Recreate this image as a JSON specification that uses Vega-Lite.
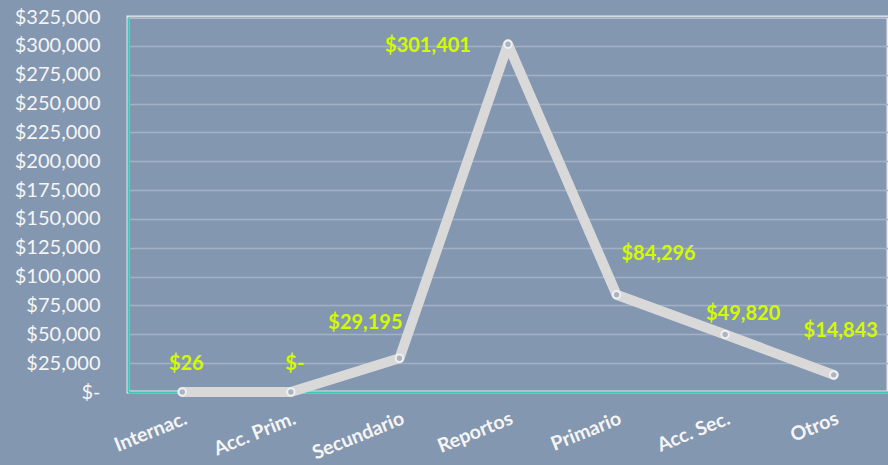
{
  "$schema": "https://vega.github.io/schema/vega-lite/v6.json",
  "autosize": {"type": "none"},
  "width": 760,
  "height": 375,
  "padding": {"left": 128, "top": 17, "right": 0, "bottom": 73},
  "background": "#8497B0",
  "config": {
    "view": {"stroke": "#E6E9EE", "strokeWidth": 3, "fill": "#8497B0"},
    "font": "Lato"
  },
  "data": {
    "values": [
      {"cat": "Internac.", "value": 26},
      {"cat": "Acc. Prim.", "value": 0},
      {"cat": "Secundario", "value": 29195},
      {"cat": "Reportos", "value": 301401},
      {"cat": "Primario", "value": 84296},
      {"cat": "Acc. Sec.", "value": 49820},
      {"cat": "Otros", "value": 14843}
    ]
  },
  "transform": [
    {"calculate": "datum.value == 0 ? '$-' : '$' + format(datum.value, ',')", "as": "label"}
  ],
  "encoding": {
    "x": {
      "field": "cat", "type": "nominal", "sort": null,
      "scale": {"type": "point", "padding": 0.5},
      "axis": {
        "title": null, "labelAngle": -22, "labelColor": "#F5F5F5",
        "labelFontSize": 19.5, "labelFontWeight": "bold", "labelPadding": 17,
        "ticks": false, "domain": true, "domainColor": "#3CC8B4", "domainWidth": 2, "grid": false
      }
    },
    "y": {
      "field": "value", "type": "quantitative",
      "scale": {"domain": [0, 325000], "nice": false},
      "axis": {
        "title": null,
        "values": [0, 25000, 50000, 75000, 100000, 125000, 150000, 175000, 200000, 225000, 250000, 275000, 300000, 325000],
        "labelExpr": "datum.value == 0 ? '$-' : '$' + format(datum.value, ',')",
        "labelColor": "#F5F5F5", "labelFontSize": 20, "labelPadding": 28,
        "ticks": false, "domain": true, "domainColor": "#3CC8B4", "domainWidth": 2,
        "grid": true, "gridColor": "#A3B1C6", "gridWidth": 1.5
      }
    }
  },
  "layer": [
    {
      "mark": {"type": "line", "color": "#D9D9D9", "strokeWidth": 10, "strokeCap": "round", "strokeJoin": "round"}
    },
    {
      "mark": {"type": "point", "filled": true, "fill": "#A9B4C4", "stroke": "#F0F0F0", "strokeWidth": 2, "size": 55, "opacity": 1}
    },
    {
      "transform": [{"filter": "datum.cat == 'Internac.' || datum.cat == 'Acc. Prim.'"}],
      "mark": {"type": "text", "color": "#D4FA00", "fontSize": 20, "fontWeight": "bold", "dx": 4, "dy": -28},
      "encoding": {"text": {"field": "label"}}
    },
    {
      "transform": [{"filter": "datum.cat == 'Secundario'"}],
      "mark": {"type": "text", "color": "#D4FA00", "fontSize": 20, "fontWeight": "bold", "dx": -34, "dy": -35},
      "encoding": {"text": {"field": "label"}}
    },
    {
      "transform": [{"filter": "datum.cat == 'Reportos'"}],
      "mark": {"type": "text", "color": "#D4FA00", "fontSize": 20, "fontWeight": "bold", "dx": -80, "dy": 2},
      "encoding": {"text": {"field": "label"}}
    },
    {
      "transform": [{"filter": "datum.cat == 'Primario'"}],
      "mark": {"type": "text", "color": "#D4FA00", "fontSize": 20, "fontWeight": "bold", "dx": 42, "dy": -41},
      "encoding": {"text": {"field": "label"}}
    },
    {
      "transform": [{"filter": "datum.cat == 'Acc. Sec.'"}],
      "mark": {"type": "text", "color": "#D4FA00", "fontSize": 20, "fontWeight": "bold", "dx": 18, "dy": -21},
      "encoding": {"text": {"field": "label"}}
    },
    {
      "transform": [{"filter": "datum.cat == 'Otros'"}],
      "mark": {"type": "text", "color": "#D4FA00", "fontSize": 20, "fontWeight": "bold", "dx": 7, "dy": -44},
      "encoding": {"text": {"field": "label"}}
    }
  ]
}
